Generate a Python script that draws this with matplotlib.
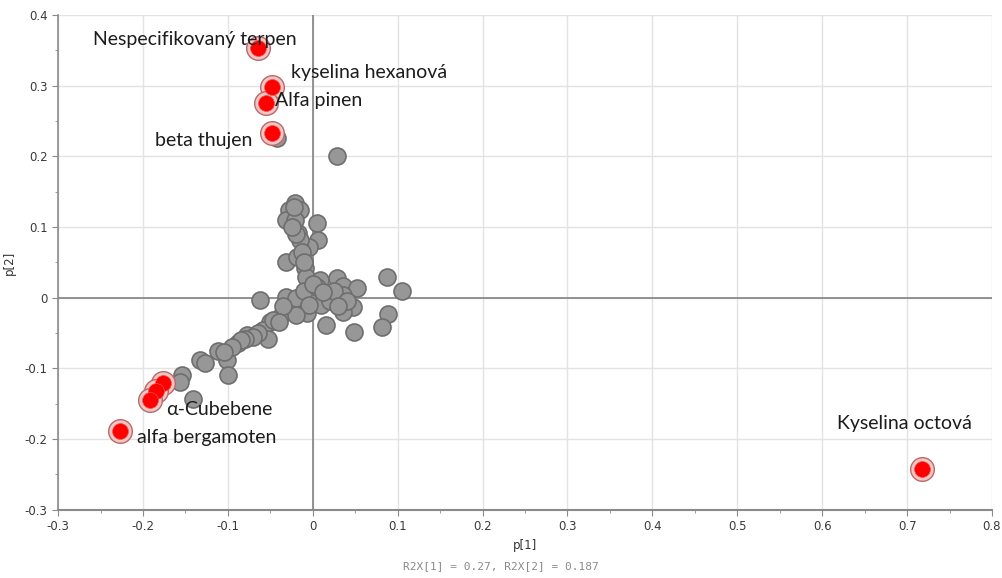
import numpy as np
import matplotlib.pyplot as plt

# loadings p[1] / p[2]
gray_x = [0.029, -0.042, -0.021, -0.028, -0.015, -0.031, -0.021, 0.005, -0.018, 0.006,
          -0.005, -0.015, -0.031, -0.019, -0.009, -0.008, 0.008, 0.029, 0.087, 0.105,
          0.035, 0.052, -0.062, -0.031, -0.015, 0.000, 0.016, 0.035, 0.047, 0.035,
          0.088, 0.081, 0.049, 0.016, -0.007, -0.027, -0.039, -0.051, -0.059, -0.077,
          -0.053, -0.088, -0.047, -0.112, -0.101, -0.133, -0.127, -0.100, -0.154, -0.157,
          -0.141, -0.020, 0.010, -0.010, 0.020, 0.005, -0.005, 0.025, 0.040, -0.020,
          0.000, 0.030, -0.035, 0.012, -0.013, -0.010, -0.020, -0.025, -0.022, -0.065,
          -0.070, -0.040, -0.080, -0.085, -0.095, -0.105]
gray_y = [0.201, 0.226, 0.134, 0.124, 0.124, 0.110, 0.110, 0.106, 0.092, 0.082,
          0.072, 0.082, 0.050, 0.057, 0.042, 0.030, 0.025, 0.028, 0.030, 0.010,
          0.016, 0.014, -0.003, 0.001, -0.003, 0.001, 0.001, 0.004, -0.013, -0.020,
          -0.023, -0.041, -0.048, -0.038, -0.021, -0.017, -0.027, -0.034, -0.045, -0.052,
          -0.059, -0.064, -0.031, -0.076, -0.088, -0.088, -0.092, -0.109, -0.109, -0.119,
          -0.143, 0.000, -0.010, 0.010, -0.005, 0.015, -0.010, 0.010, -0.005, -0.025,
          0.020, -0.012, -0.012, 0.008, 0.065, 0.050, 0.090, 0.100, 0.128, -0.050,
          -0.055, -0.035, -0.058, -0.060, -0.070, -0.077]

red_x = [-0.064, -0.048, -0.055, -0.048, -0.177, -0.185, -0.192, -0.227, 0.718]
red_y = [0.354, 0.298, 0.276, 0.233, -0.120, -0.132, -0.144, -0.188, -0.242]

labels = ["Nespecifikovaný terpen", "kyselina hexanová", "Alfa pinen", "beta thujen",
          "α-Cubebene", "alfa bergamoten", "Kyselina octová"]
label_x = [-0.259, -0.026, -0.044, -0.186, -0.173, -0.207, 0.618]
label_y = [0.365, 0.318, 0.279, 0.222, -0.158, -0.198, -0.178]

xticks = [-0.3, -0.2, -0.1, 0, 0.1, 0.2, 0.3, 0.4, 0.5, 0.6, 0.7, 0.8]
xticklabels = ["-0.3", "-0.2", "-0.1", "0", "0.1", "0.2", "0.3", "0.4", "0.5", "0.6", "0.7", "0.8"]
yticks = [-0.3, -0.2, -0.1, 0, 0.1, 0.2, 0.3, 0.4]
yticklabels = ["-0.3", "-0.2", "-0.1", "0", "0.1", "0.2", "0.3", "0.4"]

fig = plt.figure(figsize=(10.02, 5.78), dpi=100)
ax = fig.add_axes([0.058, 0.118, 0.932, 0.856])

ax.set_xlim(-0.3, 0.8)
ax.set_ylim(-0.3, 0.4)
ax.set_xticks(xticks)
ax.set_xticklabels(xticklabels)
ax.set_yticks(yticks)
ax.set_yticklabels(yticklabels)
ax.set_xticks(np.arange(-0.25, 0.8, 0.1), minor=True)
ax.set_yticks(np.arange(-0.25, 0.4, 0.1), minor=True)
ax.grid(True, which='major', color='#e3e3e3', lw=1)
ax.set_axisbelow(True)

for s in ['top', 'right']:
    ax.spines[s].set_visible(False)
ax.spines['left'].set_color('#8a8a8a')
ax.spines['bottom'].set_color('#8a8a8a')
ax.spines['left'].set_linewidth(1.2)
ax.spines['bottom'].set_linewidth(1.5)
ax.tick_params(which='both', colors='#8a8a8a', labelcolor='#3a3a3a', labelsize=8.5)
ax.tick_params(which='major', length=4)
ax.tick_params(which='minor', length=2.5)

ax.axhline(0, color='#8a8a8a', lw=1.3, zorder=1)
ax.axvline(0, color='#8a8a8a', lw=1.3, zorder=1)

ax.scatter(gray_x, gray_y, s=150, c='#979797', edgecolors='#6e6e6e', linewidths=1.2, zorder=3)
ax.scatter(red_x, red_y, s=290, c='#f2c4c4', edgecolors='#b86a6a', linewidths=1.0, zorder=4)
ax.scatter(red_x, red_y, s=130, c='#ff0000', edgecolors='#f05050', linewidths=0.5, zorder=5)

for lab, lx, ly in zip(labels, label_x, label_y):
    ax.text(lx, ly, lab, fontsize=14, family='Lato', color='#1c1c1c', va='center', ha='left', zorder=6)

ax.set_xlabel("p[1]", fontsize=8.5, color='#333333', labelpad=4)
ax.set_ylabel("p[2]", fontsize=8.5, color='#333333', labelpad=6)
fig.text(0.5, 0.012, "R2X[1] = 0.27, R2X[2] = 0.187", family='DejaVu Sans Mono',
         fontsize=8, color='#8a8a8a', ha='center', va='bottom')

fig.savefig("out.png", dpi=100)
